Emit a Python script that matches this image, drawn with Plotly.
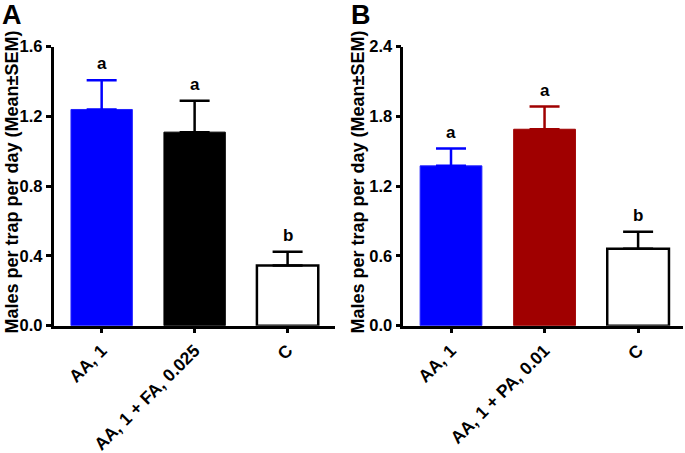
import plotly.graph_objects as go

# ---- data ----
cats_a = ["AA, 1", "AA, 1 + FA, 0.025", "C"]
mean_a = [1.24, 1.11, 0.345]
sem_a = [0.167, 0.18, 0.079]
letters_a = ["a", "a", "b"]

cats_b = ["AA, 1", "AA, 1 + PA, 0.01", "C"]
mean_b = [1.375, 1.69, 0.662]
sem_b = [0.149, 0.195, 0.147]
letters_b = ["a", "a", "b"]

fill_a = ["#0000FF", "#000000", "#FFFFFF"]
fill_b = ["#0000FF", "#A00000", "#FFFFFF"]
err_a = ["#0000FF", "#000000", "#000000"]
err_b = ["#0000FF", "#A00000", "#000000"]
edge_a = ["#2020FF", "#000000", "#000000"]
edge_b = ["#2020FF", "#A00000", "#000000"]

FONT = "Liberation Sans, Arial, sans-serif"
W, H = 685, 453

fig = go.Figure()


def add_panel(cats, means, sems, fills, errs, edges, letters, xa, ya):
    for c, m, s, f, e, ed in zip(cats, means, sems, fills, errs, edges):
        fig.add_trace(go.Bar(
            x=[c], y=[m], width=0.66,
            marker=dict(color=f, line=dict(color=ed, width=2.5 if f == "#FFFFFF" else 1)),
            error_y=dict(type="data", symmetric=False, array=[s], arrayminus=[0],
                         color=e, thickness=2.5, width=15),
            xaxis=xa, yaxis=ya, showlegend=False, hoverinfo="skip"))
    for c, m, s, t in zip(cats, means, sems, letters):
        fig.add_annotation(x=c, y=m + s, xref=xa, yref=ya, text=t,
                           showarrow=False, yanchor="bottom", yshift=5,
                           font=dict(family=FONT, size=17, color="black", weight="bold"))


add_panel(cats_a, mean_a, sem_a, fill_a, err_a, edge_a, letters_a, "x", "y")
add_panel(cats_b, mean_b, sem_b, fill_b, err_b, edge_b, letters_b, "x2", "y2")

ytop = 1 - 46.7 / H
ybot = 1 - 325.7 / H

axis_common = dict(showline=True, linecolor="black", linewidth=2.5, ticks="outside",
                   ticklen=5, tickwidth=2.5, tickcolor="black", showgrid=False,
                   zeroline=False, automargin=False)

fig.update_layout(
    width=W, height=H, margin=dict(l=0, r=0, t=0, b=0),
    paper_bgcolor="white", plot_bgcolor="white", barmode="overlay",
    font=dict(family=FONT, color="black"),
    xaxis=dict(domain=[53.5 / W, 335 / W], anchor="y", range=[-0.518, 2.51],
               tickangle=-45, tickfont=dict(family=FONT, size=17.5, weight="bold"),
               **axis_common),
    yaxis=dict(domain=[ybot, ytop], anchor="x", range=[0, 1.6],
               tickvals=[0, 0.4, 0.8, 1.2, 1.6], ticktext=["0.0", "0.4", "0.8", "1.2", "1.6"],
               tickfont=dict(family=FONT, size=16.5, weight="bold"), **axis_common),
    xaxis2=dict(domain=[403.3 / W, 683 / W], anchor="y2", range=[-0.51, 2.48],
                tickangle=-45, tickfont=dict(family=FONT, size=17.5, weight="bold"),
                **axis_common),
    yaxis2=dict(domain=[ybot, ytop], anchor="x2", range=[0, 2.4],
                tickvals=[0, 0.6, 1.2, 1.8, 2.4], ticktext=["0.0", "0.6", "1.2", "1.8", "2.4"],
                tickfont=dict(family=FONT, size=16.5, weight="bold"), **axis_common),
)

ytitle = "Males per trap per day (Mean±SEM)"
for xc in [12 / W, 358 / W]:
    fig.add_annotation(x=xc, y=0.597, xref="paper", yref="paper", text=ytitle,
                       textangle=-90, showarrow=False, xanchor="center", yanchor="middle",
                       font=dict(family=FONT, size=18, color="black", weight="bold"))

for xl, t in [(0 / W, "A"), (349 / W, "B")]:
    fig.add_annotation(x=xl, y=1.0, xref="paper", yref="paper", text=t,
                       showarrow=False, xanchor="left", yanchor="top", yshift=2,
                       font=dict(family=FONT, size=27, color="black", weight="bold"))

fig.write_html("out.html", config={"displayModeBar": False},
               post_script="document.body.style.margin='0';document.body.style.padding='0';")
